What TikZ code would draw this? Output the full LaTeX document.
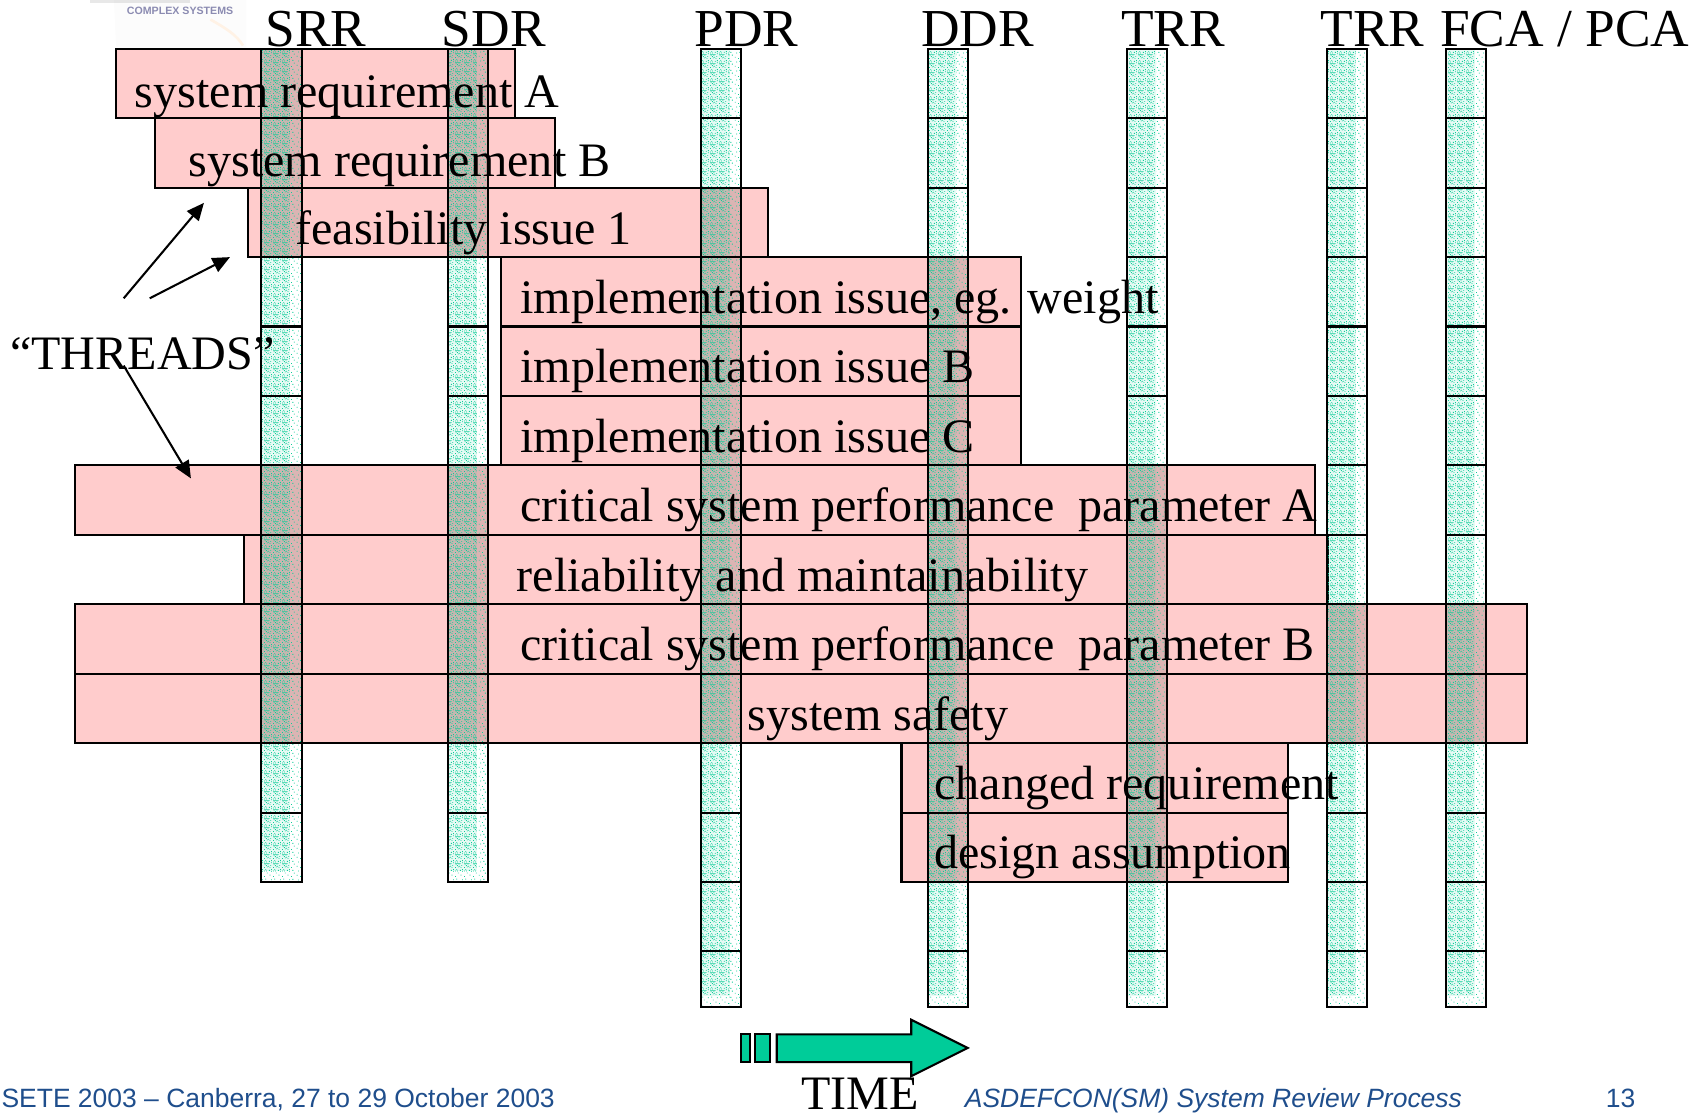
\documentclass[tikz,border=0pt]{standalone}
\usepackage{fontspec}
\setmainfont{Liberation Serif}
\newfontfamily\footfont{Liberation Sans}
\usetikzlibrary{arrows.meta,patterns}
\definecolor{pinkbox}{HTML}{FFCCCC}
\definecolor{mintdot}{HTML}{10CC98}
\definecolor{timegreen}{HTML}{00CC99}
\definecolor{footblue}{HTML}{1F4E8C}
\pgfdeclarepatternformonly{stipple}{\pgfqpoint{0pt}{0pt}}{\pgfqpoint{4.2pt}{4.2pt}}{\pgfqpoint{4.2pt}{4.2pt}}{%
  \foreach \a/\b in {0/0,1.4/0.35,2.8/0,0.35/1.4,1.75/1.75,3.15/1.05,0/2.8,1.05/2.8,2.45/3.15,3.5/2.45,0.7/3.5,2.1/0.7,3.5/3.5,1.05/1.05}{
    \pgfpathrectangle{\pgfqpoint{\a pt}{\b pt}}{\pgfqpoint{0.42pt}{0.42pt}}
  }
  \pgfpathrectangle{\pgfqpoint{0pt}{2.1pt}}{\pgfqpoint{2.8pt}{0.3pt}}
  \pgfusepath{fill}}
\pgfdeclarepatternformonly{sparsestipple}{\pgfqpoint{0pt}{0pt}}{\pgfqpoint{4.2pt}{4.2pt}}{\pgfqpoint{4.2pt}{4.2pt}}{%
  \foreach \a/\b in {0/0,2.8/0.7,1.4/1.75,3.5/2.8,0.7/3.15}{
    \pgfpathrectangle{\pgfqpoint{\a pt}{\b pt}}{\pgfqpoint{0.42pt}{0.42pt}}
  }
  \pgfusepath{fill}}
\tikzset{
  threadbox/.style={draw=black,line width=0.95pt,fill=pinkbox},
  colcell/.style={draw=black,line width=0.95pt},
  coltint/.style={fill=mintdot,fill opacity=0.1},
  overlaptint/.style={fill=black!80!mintdot,fill opacity=0.14},
  colstipple/.style={pattern=stipple,pattern color=mintdot},
  colsparse/.style={pattern=sparsestipple,pattern color=mintdot},
  body/.style={anchor=base west,inner sep=0pt,font=\fontsize{22.15}{23}\selectfont},
  header/.style={anchor=base west,inner sep=0pt,font=\fontsize{24.6}{25}\selectfont},
  foot/.style={anchor=base west,inner sep=0pt,text=footblue,font=\footfont\fontsize{12.2}{13}\selectfont},
  threadarrow/.style={-{Triangle[length=8pt,width=7pt]},line width=0.95pt,black},
  timepart/.style={draw=black,line width=0.95pt,fill=timegreen}
}
\newcommand{\colgrid}{241/278/813,413/450/813,646/683/928,855/892/928,1039/1076/928,1223/1260/928,1333/1370/928}
\begin{document}
\begin{tikzpicture}[x=0.5pt,y=-0.5pt]
\useasboundingbox (0,0) rectangle (1568,1026);
% faint logo remains
\fill[black!1] (105,0) -- (227,0) -- (227,44) -- (107,44) -- cycle;
\draw[orange!10,line width=1.2pt] (194,18) .. controls (208,26) and (218,32) .. (224,42);
\fill[gray,opacity=0.18] (83,0) rectangle (175,2.5);
\node[anchor=base,inner sep=0pt,text=blue!20!gray,opacity=0.75,font=\footfont\bfseries\fontsize{4.9}{5}\selectfont] (logo) at (166,13) {COMPLEX SYSTEMS};
% threads
\foreach \bx/\by/\cx/\cy in {107/45/475/109,143/109/512/173,229/173/708/237,462/237/941/301,462/301/941/365,462/365/941/429,69/429/1212/493,225/493/1224/557,69/557/1408/621,69/621/1408/685,831/685/1187/749,831/749/1187/813}{
  \path[threadbox] (\bx,\by) rectangle (\cx,\cy);
  \begin{scope}
    \clip (\bx,\by) rectangle (\cx,\cy);
    \foreach \xa/\xb/\bot in \colgrid { \path[overlaptint] (\xa,45) rectangle (\xb,\bot); }
  \end{scope}
}
% review columns
\foreach \xa/\xb/\bot in \colgrid {
  \pgfmathsetmacro{\xm}{\xa+0.72*(\xb-\xa)}
  \pgfmathsetmacro{\yl}{\bot-10}
  \path[coltint] (\xa,45) rectangle (\xm,\yl);
  \path[colstipple] (\xa,47) rectangle (\xm,\yl);
  \path[colsparse] (\xm,47) rectangle (\xb,\bot);
  \path[colsparse] (\xa,\yl) rectangle (\xm,\bot);
  \draw[colcell] (\xa,45) rectangle (\xb,\bot);
  \foreach \yy in {109,173,...,877}{
    \ifnum\yy<\bot \draw[colcell] (\xa,\yy) -- (\xb,\yy);\fi
  }
}
% headers
\node[header] (srr) at (244.5,42.5) {SRR};
\node[header] (sdr) at (407,42.5) {SDR};
\node[header] (pdr) at (640,42.5) {PDR};
\node[header] (ddr) at (849,42.5) {DDR};
\node[header] (trra) at (1033,42.5) {TRR};
\node[header] (trrb) at (1217,42.5) {TRR};
\node[header] (fca) at (1327,42.5) {FCA / PCA};
% thread labels
\node[body] (t1) at (124,99.5) {system requirement A};
\node[body] (t2) at (173.5,162.5) {system requirement B};
\node[body] (t3) at (272,225.5) {feasibility issue 1};
\node[body] (t4) at (479.5,289) {implementation issue, eg. weight};
\node[body] (t5) at (479.5,353) {implementation issue B};
\node[body] (t6) at (479.5,417) {implementation issue C};
\node[body] (t7) at (479.5,481) {critical system performance\ \ parameter A};
\node[body] (t8) at (476,545) {reliability and maintainability};
\node[body] (t9) at (479.5,609) {critical system performance\ \ parameter B};
\node[body] (t10) at (689,673) {system safety};
\node[body] (t11) at (861,737) {changed requirement};
\node[body] (t12) at (861,801) {design assumption};
\node[body] (threads) at (9,341) {“THREADS”};
% arrows
\coordinate (a1s) at (114,275); \coordinate (a1e) at (188,187);
\coordinate (a2s) at (138,275); \coordinate (a2e) at (212,237);
\coordinate (a3s) at (114,337); \coordinate (a3e) at (176,441);
\draw[threadarrow] (a1s) -- (a1e);
\draw[threadarrow] (a2s) -- (a2e);
\draw[threadarrow] (a3s) -- (a3e);
% time arrow
\path[timepart] (683,953.5) rectangle (691,979);
\path[timepart] (696,953.5) rectangle (710,979);
\path[timepart] (716,953.5) -- (840,953.5) -- (840,940) -- (892,966) -- (840,992) -- (840,979) -- (716,979) -- cycle;
\node[body] (time) at (738,1022.5) {TIME};
% footer
\node[foot] (f1) at (1,1021) {SETE 2003 – Canberra, 27 to 29 October 2003};
\node[foot] (f2) at (889,1021) {\itshape ASDEFCON(SM) System Review Process};
\node[foot] (f3) at (1480,1021) {13};
\end{tikzpicture}
\end{document}
